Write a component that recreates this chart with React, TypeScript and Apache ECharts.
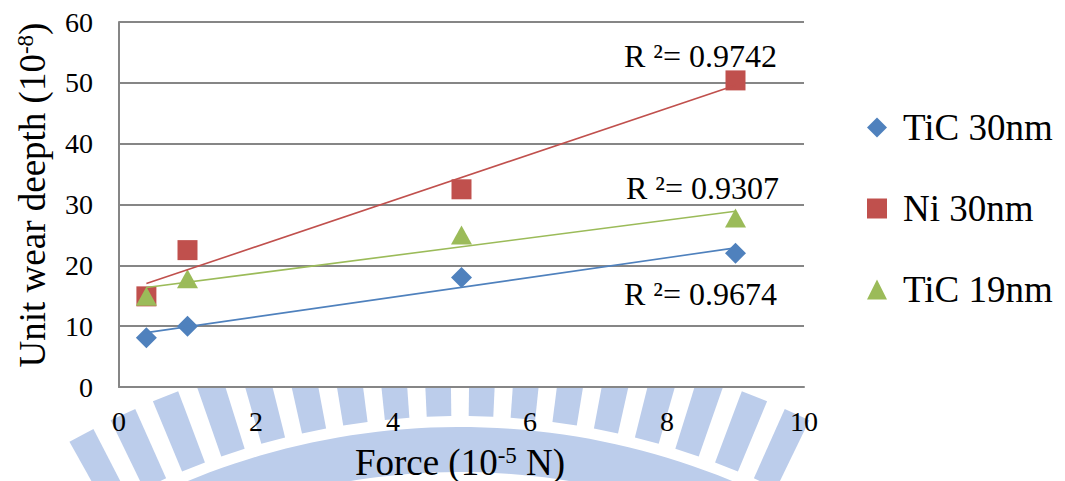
import React, { useEffect, useRef } from 'react';
import * as echarts from 'echarts';

// ---- data ----
const forceX = [0.4, 1, 5, 9];
const tic30 = [8.1, 10, 18.0, 22.0];
const ni30 = [14.9, 22.5, 32.5, 50.4];
const tic19 = [14.9, 17.8, 25.0, 27.8];
const seriesNames = ['TiC 30nm', 'Ni 30nm', 'TiC 19nm'];
const r2Values = ['0.9674', '0.9742', '0.9307'];
const xTickLabels = ['0', '2', '4', '6', '8', '10'];
const yTickLabels = ['0', '10', '20', '30', '40', '50', '60'];

const FONT = 'Times New Roman';
const COLORS = ['#4f81bd', '#c0504d', '#9bbb59'];
const GRIDC = '#868686';

function linFit(xs: number[], ys: number[]) {
  const n = xs.length;
  const mx = xs.reduce((a, b) => a + b, 0) / n;
  const my = ys.reduce((a, b) => a + b, 0) / n;
  let sxy = 0, sxx = 0;
  for (let i = 0; i < n; i++) {
    sxy += (xs[i] - mx) * (ys[i] - my);
    sxx += (xs[i] - mx) * (xs[i] - mx);
  }
  const k = sxy / sxx;
  return (x: number) => my + k * (x - mx);
}

function trend(ys: number[]) {
  const f = linFit(forceX, ys);
  const x0 = Math.min(...forceX);
  const x1 = Math.max(...forceX);
  return [[x0, f(x0)], [x1, f(x1)]];
}

// ---- decorative watermark (background) ----
function watermark() {
  const els: any[] = [];
  const col = '#bccdeb';
  const cx = 460, cy = 1140;
  const pt = (r: number, a: number) => [cx + r * Math.sin(a), cy - r * Math.cos(a)];
  const bandPts: number[][] = [];
  const a0 = -0.62, a1 = 0.5;
  for (let i = 0; i <= 60; i++) bandPts.push(pt(713, a0 + (a1 - a0) * i / 60));
  for (let i = 60; i >= 0; i--) bandPts.push(pt(668, a0 + (a1 - a0) * i / 60));
  els.push({ type: 'polygon', z: -10, silent: true, shape: { points: bandPts }, style: { fill: col } });
  const period = 0.058, width = 0.034;
  for (let a = -0.51; a < 0.46; a += period) {
    els.push({
      type: 'polygon', z: -10, silent: true,
      shape: { points: [pt(724, a), pt(724, a + width), pt(800, a + width), pt(800, a)] },
      style: { fill: col },
    });
  }
  return els;
}

export default function App() {
  const ref = useRef<HTMLDivElement>(null);
  useEffect(() => {
    document.body.style.margin = '0';
    const chart = echarts.init(ref.current!, undefined, { renderer: 'svg' });
    const symbols = ['diamond', 'rect', 'triangle'];
    const sizes: any[] = [21, 20, [21, 19]];
    const datas = [tic30, ni30, tic19];
    const scatter = datas.map((ys, i) => ({
      name: seriesNames[i],
      type: 'scatter',
      symbol: symbols[i],
      symbolSize: sizes[i],
      itemStyle: { color: COLORS[i], opacity: 1 },
      data: forceX.map((x, j) => [x, ys[j]]),
      z: 2,
    }));
    const trends = datas.map((ys, i) => ({
      name: 'trend ' + seriesNames[i],
      type: 'line',
      symbol: 'none',
      showSymbol: false,
      silent: true,
      lineStyle: { color: COLORS[i], width: 1.6 },
      data: trend(ys),
      z: 3,
    }));
    const r2Pos = [[777, 294], [777, 56], [779, 188]];
    const r2Texts = r2Values.map((v, i) => ({
      type: 'text', z: 10, silent: true,
      x: r2Pos[i][0], y: r2Pos[i][1],
      style: { text: 'R ²= ' + v, fontSize: 32, fontFamily: FONT, fill: '#000', align: 'right', verticalAlign: 'middle' },
    }));
    const rich = {
      t: { fontSize: 37, fontFamily: FONT, color: '#000', lineHeight: 37 },
      s: { fontSize: 23, fontFamily: FONT, color: '#000', lineHeight: 14, verticalAlign: 'top' },
    };
    chart.setOption({
      animation: false,
      backgroundColor: '#fff',
      textStyle: { fontFamily: FONT },
      grid: { left: 119, right: 261, top: 22, bottom: 94, show: true, backgroundColor: '#fff', borderWidth: 0 },
      xAxis: {
        type: 'value', min: 0, max: 10, interval: 2,
        axisLine: { show: true, lineStyle: { color: GRIDC, width: 2 } },
        axisTick: { show: false },
        splitLine: { show: false },
        axisLabel: {
          fontSize: 28, color: '#000', fontFamily: FONT, margin: 20,
          formatter: (v: number) => xTickLabels[Math.round(v / 2)] ?? String(v),
        },
      },
      yAxis: {
        type: 'value', min: 0, max: 60, interval: 10,
        axisLine: { show: true, lineStyle: { color: GRIDC, width: 2 } },
        axisTick: { show: false },
        splitLine: { show: true, lineStyle: { color: GRIDC, width: 2 } },
        axisLabel: {
          fontSize: 28, color: '#000', fontFamily: FONT, margin: 26,
          formatter: (v: number) => yTickLabels[Math.round(v / 10)] ?? String(v),
        },
      },
      legend: {
        orient: 'vertical',
        left: 862, top: 104,
        itemWidth: 20, itemHeight: 20, itemGap: 44,
        data: seriesNames,
        textStyle: { fontSize: 37, lineHeight: 36, color: '#000', fontFamily: FONT, padding: [0, 0, 0, 11] },
      },
      graphic: [
        ...watermark(),
        {
          type: 'text', z: 10, silent: true, x: 32, y: 195, rotation: Math.PI / 2,
          style: {
            text: '{t|Unit wear deepth (10}{s|-8}{t|)}',
            align: 'center', verticalAlign: 'middle', fontFamily: FONT, fontSize: 37,
            rich,
          },
        },
        {
          type: 'text', z: 10, silent: true, x: 460, y: 462,
          style: {
            text: '{t|Force (10}{s|-5}{t| N)}',
            align: 'center', verticalAlign: 'middle', fontFamily: FONT, fontSize: 37,
            rich,
          },
        },
        ...r2Texts,
      ],
      series: [...scatter, ...trends],
    });
    return () => chart.dispose();
  }, []);
  return <div ref={ref} style={{ position: 'absolute', left: 0, top: 0, width: 1065, height: 481 }} />;
}
